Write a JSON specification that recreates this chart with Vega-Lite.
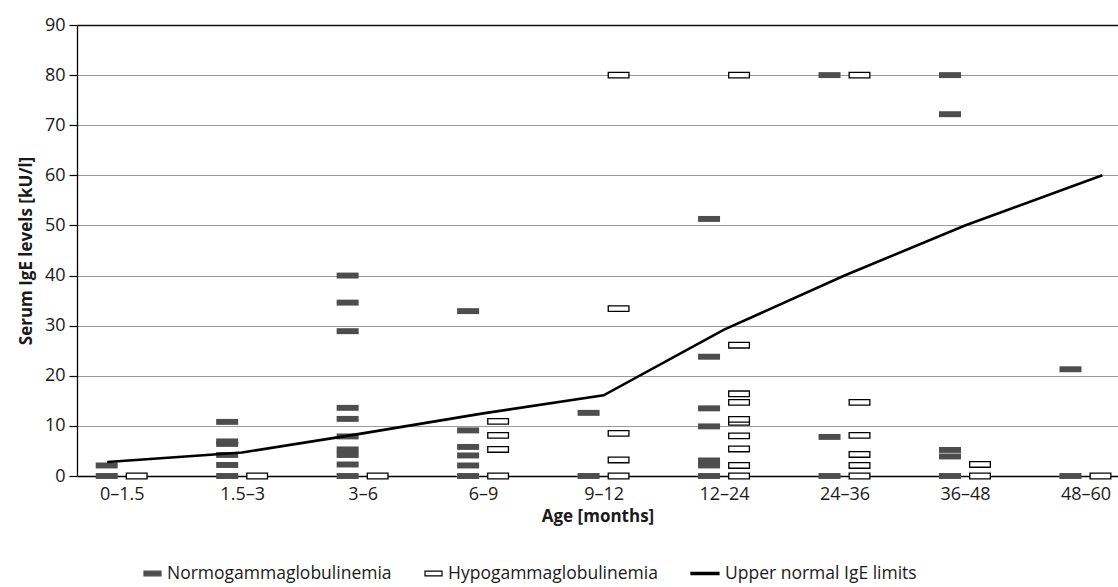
{
  "$schema": "https://vega.github.io/schema/vega-lite/v6.json",
  "width": 1041,
  "height": 451,
  "autosize": {"type": "none"},
  "padding": {"left": 77, "top": 25, "right": 0, "bottom": 111},
  "background": "white",
  "config": {
    "font": "Open Sans",
    "view": {"stroke": null},
    "axis": {
      "labelFont": "Open Sans",
      "titleFont": "Open Sans",
      "labelColor": "#1a1a1a",
      "titleColor": "#1a1a1a",
      "domainColor": "black",
      "domainWidth": 1.3,
      "tickColor": "black",
      "labelFontSize": 18,
      "titleFontSize": 17,
      "titleFontWeight": "bold"
    },
    "legend": {
      "labelFont": "Open Sans",
      "labelFontSize": 17.5,
      "labelColor": "#1a1a1a"
    }
  },
  "datasets": {
    "observations": [
      {"age": "0–1.5", "ageIndex": 1, "series": "Normogammaglobulinemia", "ige": 0},
      {"age": "0–1.5", "ageIndex": 1, "series": "Normogammaglobulinemia", "ige": 2.1},
      {"age": "1.5–3", "ageIndex": 2, "series": "Normogammaglobulinemia", "ige": 0},
      {"age": "1.5–3", "ageIndex": 2, "series": "Normogammaglobulinemia", "ige": 2.2},
      {"age": "1.5–3", "ageIndex": 2, "series": "Normogammaglobulinemia", "ige": 4.2},
      {"age": "1.5–3", "ageIndex": 2, "series": "Normogammaglobulinemia", "ige": 6.4},
      {"age": "1.5–3", "ageIndex": 2, "series": "Normogammaglobulinemia", "ige": 6.9},
      {"age": "1.5–3", "ageIndex": 2, "series": "Normogammaglobulinemia", "ige": 10.8},
      {"age": "3–6", "ageIndex": 3, "series": "Normogammaglobulinemia", "ige": 0},
      {"age": "3–6", "ageIndex": 3, "series": "Normogammaglobulinemia", "ige": 2.3},
      {"age": "3–6", "ageIndex": 3, "series": "Normogammaglobulinemia", "ige": 4.2},
      {"age": "3–6", "ageIndex": 3, "series": "Normogammaglobulinemia", "ige": 5.3},
      {"age": "3–6", "ageIndex": 3, "series": "Normogammaglobulinemia", "ige": 7.9},
      {"age": "3–6", "ageIndex": 3, "series": "Normogammaglobulinemia", "ige": 11.4},
      {"age": "3–6", "ageIndex": 3, "series": "Normogammaglobulinemia", "ige": 13.6},
      {"age": "3–6", "ageIndex": 3, "series": "Normogammaglobulinemia", "ige": 28.9},
      {"age": "3–6", "ageIndex": 3, "series": "Normogammaglobulinemia", "ige": 34.6},
      {"age": "3–6", "ageIndex": 3, "series": "Normogammaglobulinemia", "ige": 40},
      {"age": "6–9", "ageIndex": 4, "series": "Normogammaglobulinemia", "ige": 0},
      {"age": "6–9", "ageIndex": 4, "series": "Normogammaglobulinemia", "ige": 2.1},
      {"age": "6–9", "ageIndex": 4, "series": "Normogammaglobulinemia", "ige": 4.1},
      {"age": "6–9", "ageIndex": 4, "series": "Normogammaglobulinemia", "ige": 5.8},
      {"age": "6–9", "ageIndex": 4, "series": "Normogammaglobulinemia", "ige": 9.1},
      {"age": "6–9", "ageIndex": 4, "series": "Normogammaglobulinemia", "ige": 32.9},
      {"age": "9–12", "ageIndex": 5, "series": "Normogammaglobulinemia", "ige": 0},
      {"age": "9–12", "ageIndex": 5, "series": "Normogammaglobulinemia", "ige": 12.6},
      {"age": "12–24", "ageIndex": 6, "series": "Normogammaglobulinemia", "ige": 0},
      {"age": "12–24", "ageIndex": 6, "series": "Normogammaglobulinemia", "ige": 2.1},
      {"age": "12–24", "ageIndex": 6, "series": "Normogammaglobulinemia", "ige": 3.1},
      {"age": "12–24", "ageIndex": 6, "series": "Normogammaglobulinemia", "ige": 9.9},
      {"age": "12–24", "ageIndex": 6, "series": "Normogammaglobulinemia", "ige": 13.5},
      {"age": "12–24", "ageIndex": 6, "series": "Normogammaglobulinemia", "ige": 23.8},
      {"age": "12–24", "ageIndex": 6, "series": "Normogammaglobulinemia", "ige": 51.3},
      {"age": "24–36", "ageIndex": 7, "series": "Normogammaglobulinemia", "ige": 0},
      {"age": "24–36", "ageIndex": 7, "series": "Normogammaglobulinemia", "ige": 7.8},
      {"age": "24–36", "ageIndex": 7, "series": "Normogammaglobulinemia", "ige": 80},
      {"age": "36–48", "ageIndex": 8, "series": "Normogammaglobulinemia", "ige": 0},
      {"age": "36–48", "ageIndex": 8, "series": "Normogammaglobulinemia", "ige": 3.9},
      {"age": "36–48", "ageIndex": 8, "series": "Normogammaglobulinemia", "ige": 5.2},
      {"age": "36–48", "ageIndex": 8, "series": "Normogammaglobulinemia", "ige": 72.2},
      {"age": "36–48", "ageIndex": 8, "series": "Normogammaglobulinemia", "ige": 80},
      {"age": "48–60", "ageIndex": 9, "series": "Normogammaglobulinemia", "ige": 0},
      {"age": "48–60", "ageIndex": 9, "series": "Normogammaglobulinemia", "ige": 21.3},
      {"age": "0–1.5", "ageIndex": 1, "series": "Hypogammaglobulinemia", "ige": 0},
      {"age": "1.5–3", "ageIndex": 2, "series": "Hypogammaglobulinemia", "ige": 0},
      {"age": "3–6", "ageIndex": 3, "series": "Hypogammaglobulinemia", "ige": 0},
      {"age": "6–9", "ageIndex": 4, "series": "Hypogammaglobulinemia", "ige": 0},
      {"age": "6–9", "ageIndex": 4, "series": "Hypogammaglobulinemia", "ige": 5.3},
      {"age": "6–9", "ageIndex": 4, "series": "Hypogammaglobulinemia", "ige": 8.1},
      {"age": "6–9", "ageIndex": 4, "series": "Hypogammaglobulinemia", "ige": 10.9},
      {"age": "9–12", "ageIndex": 5, "series": "Hypogammaglobulinemia", "ige": 0},
      {"age": "9–12", "ageIndex": 5, "series": "Hypogammaglobulinemia", "ige": 3.2},
      {"age": "9–12", "ageIndex": 5, "series": "Hypogammaglobulinemia", "ige": 8.5},
      {"age": "9–12", "ageIndex": 5, "series": "Hypogammaglobulinemia", "ige": 33.4},
      {"age": "9–12", "ageIndex": 5, "series": "Hypogammaglobulinemia", "ige": 80},
      {"age": "12–24", "ageIndex": 6, "series": "Hypogammaglobulinemia", "ige": 0},
      {"age": "12–24", "ageIndex": 6, "series": "Hypogammaglobulinemia", "ige": 2.1},
      {"age": "12–24", "ageIndex": 6, "series": "Hypogammaglobulinemia", "ige": 5.4},
      {"age": "12–24", "ageIndex": 6, "series": "Hypogammaglobulinemia", "ige": 8.0},
      {"age": "12–24", "ageIndex": 6, "series": "Hypogammaglobulinemia", "ige": 10.7},
      {"age": "12–24", "ageIndex": 6, "series": "Hypogammaglobulinemia", "ige": 11.3},
      {"age": "12–24", "ageIndex": 6, "series": "Hypogammaglobulinemia", "ige": 14.7},
      {"age": "12–24", "ageIndex": 6, "series": "Hypogammaglobulinemia", "ige": 16.4},
      {"age": "12–24", "ageIndex": 6, "series": "Hypogammaglobulinemia", "ige": 26.1},
      {"age": "12–24", "ageIndex": 6, "series": "Hypogammaglobulinemia", "ige": 80},
      {"age": "24–36", "ageIndex": 7, "series": "Hypogammaglobulinemia", "ige": 0},
      {"age": "24–36", "ageIndex": 7, "series": "Hypogammaglobulinemia", "ige": 2.1},
      {"age": "24–36", "ageIndex": 7, "series": "Hypogammaglobulinemia", "ige": 4.3},
      {"age": "24–36", "ageIndex": 7, "series": "Hypogammaglobulinemia", "ige": 8.1},
      {"age": "24–36", "ageIndex": 7, "series": "Hypogammaglobulinemia", "ige": 14.7},
      {"age": "24–36", "ageIndex": 7, "series": "Hypogammaglobulinemia", "ige": 80},
      {"age": "36–48", "ageIndex": 8, "series": "Hypogammaglobulinemia", "ige": 0},
      {"age": "36–48", "ageIndex": 8, "series": "Hypogammaglobulinemia", "ige": 2.3},
      {"age": "48–60", "ageIndex": 9, "series": "Hypogammaglobulinemia", "ige": 0}
    ],
    "limits": [
      {"age": "0–1.5", "ageIndex": 0.88, "series": "Upper normal IgE limits", "ige": 2.8},
      {"age": "1.5–3", "ageIndex": 2, "series": "Upper normal IgE limits", "ige": 4.7},
      {"age": "3–6", "ageIndex": 3, "series": "Upper normal IgE limits", "ige": 8.5},
      {"age": "6–9", "ageIndex": 4, "series": "Upper normal IgE limits", "ige": 12.5},
      {"age": "9–12", "ageIndex": 5, "series": "Upper normal IgE limits", "ige": 16.1},
      {"age": "12–24", "ageIndex": 6, "series": "Upper normal IgE limits", "ige": 29.2},
      {"age": "24–36", "ageIndex": 7, "series": "Upper normal IgE limits", "ige": 40},
      {"age": "36–48", "ageIndex": 8, "series": "Upper normal IgE limits", "ige": 50},
      {"age": "48–60", "ageIndex": 9.14, "series": "Upper normal IgE limits", "ige": 60}
    ]
  },
  "encoding": {
    "x": {
      "field": "ageIndex",
      "type": "quantitative",
      "scale": {"domain": [0.629, 9.27], "nice": false, "zero": false},
      "axis": {
        "values": [1, 2, 3, 4, 5, 6, 7, 8, 9],
        "labelExpr": "['', '0–1.5', '1.5–3', '3–6', '6–9', '9–12', '12–24', '24–36', '36–48', '48–60'][datum.value]",
        "ticks": false,
        "grid": false,
        "labelPadding": 9,
        "title": "Age [months]",
        "titlePadding": 5
      }
    },
    "y": {
      "field": "ige",
      "type": "quantitative",
      "scale": {"domain": [0, 90], "nice": false, "zero": true},
      "axis": {
        "values": [0, 10, 20, 30, 40, 50, 60, 70, 80, 90],
        "grid": true,
        "gridColor": {"condition": {"test": "datum.value === 90", "value": "#111111"}, "value": "#9a9a9a"},
        "gridWidth": {"condition": {"test": "datum.value === 90", "value": 1.6}, "value": 1.2},
        "ticks": true,
        "tickSize": 8,
        "tickWidth": 1.2,
        "labelPadding": 4,
        "title": "Serum IgE levels [kU/l]",
        "titlePadding": 9
      }
    }
  },
  "layer": [
    {
      "data": {"name": "observations"},
      "transform": [{"filter": "datum.series === 'Normogammaglobulinemia'"}],
      "mark": {"type": "point", "filled": true, "opacity": 1, "size": 484, "xOffset": -15, "strokeWidth": 0},
      "encoding": {
        "fill": {
          "field": "series",
          "type": "nominal",
          "scale": {
            "domain": ["Normogammaglobulinemia", "Hypogammaglobulinemia", "Upper normal IgE limits"],
            "range": ["#4d4d4d", "#ffffff", "#000000"]
          }
        },
        "stroke": {"field": "series", "type": "nominal"},
        "shape": {
          "field": "series",
          "type": "nominal",
          "scale": {
            "domain": ["Normogammaglobulinemia", "Hypogammaglobulinemia", "Upper normal IgE limits"],
            "range": ["M-1,-0.27H1V0.27H-1Z", "M-1,-0.27H1V0.27H-1Z", "M-2.3,-0.13H1V0.13H-2.3Z"]
          }
        }
      }
    },
    {
      "data": {"name": "observations"},
      "transform": [{"filter": "datum.series === 'Hypogammaglobulinemia'"}],
      "mark": {"type": "point", "filled": true, "opacity": 1, "size": 428, "xOffset": 15, "strokeWidth": 1.3},
      "encoding": {
        "fill": {"field": "series", "type": "nominal"},
        "stroke": {"field": "series", "type": "nominal"},
        "shape": {"field": "series", "type": "nominal"}
      }
    },
    {
      "data": {"name": "limits"},
      "mark": {"type": "line", "strokeWidth": 2.6, "interpolate": "linear"},
      "encoding": {
        "stroke": {
          "field": "series",
          "type": "nominal",
          "scale": {
            "domain": ["Normogammaglobulinemia", "Hypogammaglobulinemia", "Upper normal IgE limits"],
            "range": ["#4d4d4d", "#000000", "#000000"]
          },
          "legend": {
            "title": null,
            "orient": "none",
            "direction": "horizontal",
            "legendX": 66,
            "legendY": 539,
            "padding": 0,
            "columnPadding": 30,
            "labelOffset": 5,
            "symbolSize": 289,
            "symbolStrokeWidth": 1.2,
            "symbolOpacity": 1,
            "labelFontSize": 17.5,
            "labelLimit": 400
          }
        }
      }
    }
  ],
  "resolve": {"scale": {"fill": "shared", "stroke": "shared", "shape": "shared"}}
}
